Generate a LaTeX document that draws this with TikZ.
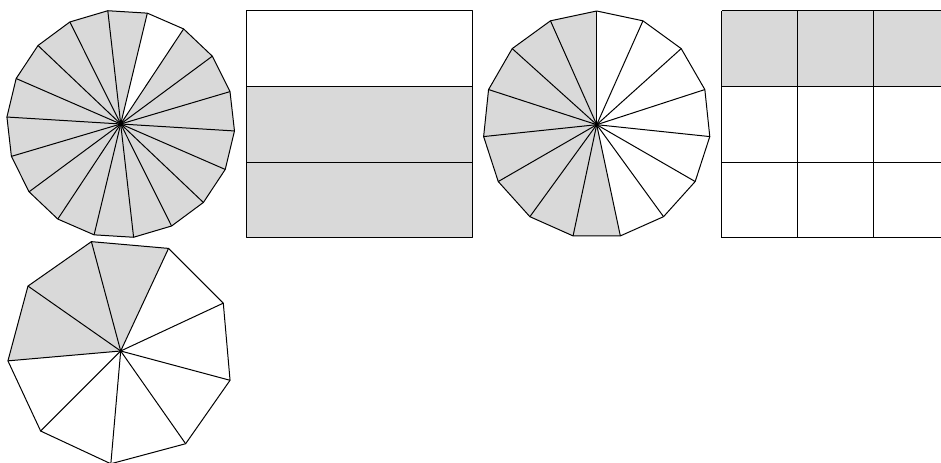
\documentclass[tikz,border=0pt]{standalone}
\begin{document}
\begin{tikzpicture}[x=0.75pt,y=0.75pt,
  partfill/.style={fill=black!15},
  edge/.style={draw=black,line width=0.75pt,line join=round}]
\useasboundingbox (0,0) rectangle (941,463);
% polygon 1: 18 sides, 17 shaded
\begin{scope}[shift={(120.7,339)}]
  \foreach \k in {0,2,3,...,17}{
    \fill[partfill] (0,0) -- ({96.5-20*\k}:114) -- ({96.5-20*(\k+1)}:114) -- cycle;}
  \foreach \k in {0,...,17}{\draw[edge] (0,0) -- ({96.5-20*\k}:114);}
  \draw[edge] (96.5:114) \foreach \k in {1,...,17}{ -- ({96.5-20*\k}:114)} -- cycle;
\end{scope}
% rectangle with 3 rows
\fill[partfill] (246,225.3) rectangle (472.7,376);
\draw[edge] (246,225.3) rectangle (472.7,452);
\draw[edge] (246,376) -- (472.7,376);
\draw[edge] (246,300.3) -- (472.7,300.3);
% polygon 2: 15 sides, 8 shaded
\begin{scope}[shift={(596.7,338.3)}]
  \foreach \k in {0,...,7}{
    \fill[partfill] (0,0) -- ({90+24*\k}:113.7) -- ({90+24*(\k+1)}:113.7) -- cycle;}
  \foreach \k in {0,...,14}{\draw[edge] (0,0) -- ({90+24*\k}:113.7);}
  \draw[edge] (90:113.7) \foreach \k in {1,...,14}{ -- ({90+24*\k}:113.7)} -- cycle;
\end{scope}
% grid 3x3, top row shaded
\fill[partfill] (721.7,376) rectangle (948.6,452);
\foreach \xx in {721.7,797.3,873,948.6}{\draw[edge] (\xx,225.3) -- (\xx,452);}
\foreach \yy in {225.3,300.3,376,452}{\draw[edge] (721.7,\yy) -- (948.6,\yy);}
% polygon 3: 9 sides, 3 shaded
\begin{scope}[shift={(120.7,112)}]
  \foreach \k in {0,1,2}{
    \fill[partfill] (0,0) -- ({65+40*\k}:113.2) -- ({65+40*(\k+1)}:113.2) -- cycle;}
  \foreach \k in {0,...,8}{\draw[edge] (0,0) -- ({65+40*\k}:113.2);}
  \draw[edge] (65:113.2) \foreach \k in {1,...,8}{ -- ({65+40*\k}:113.2)} -- cycle;
\end{scope}
\end{tikzpicture}
\end{document}
